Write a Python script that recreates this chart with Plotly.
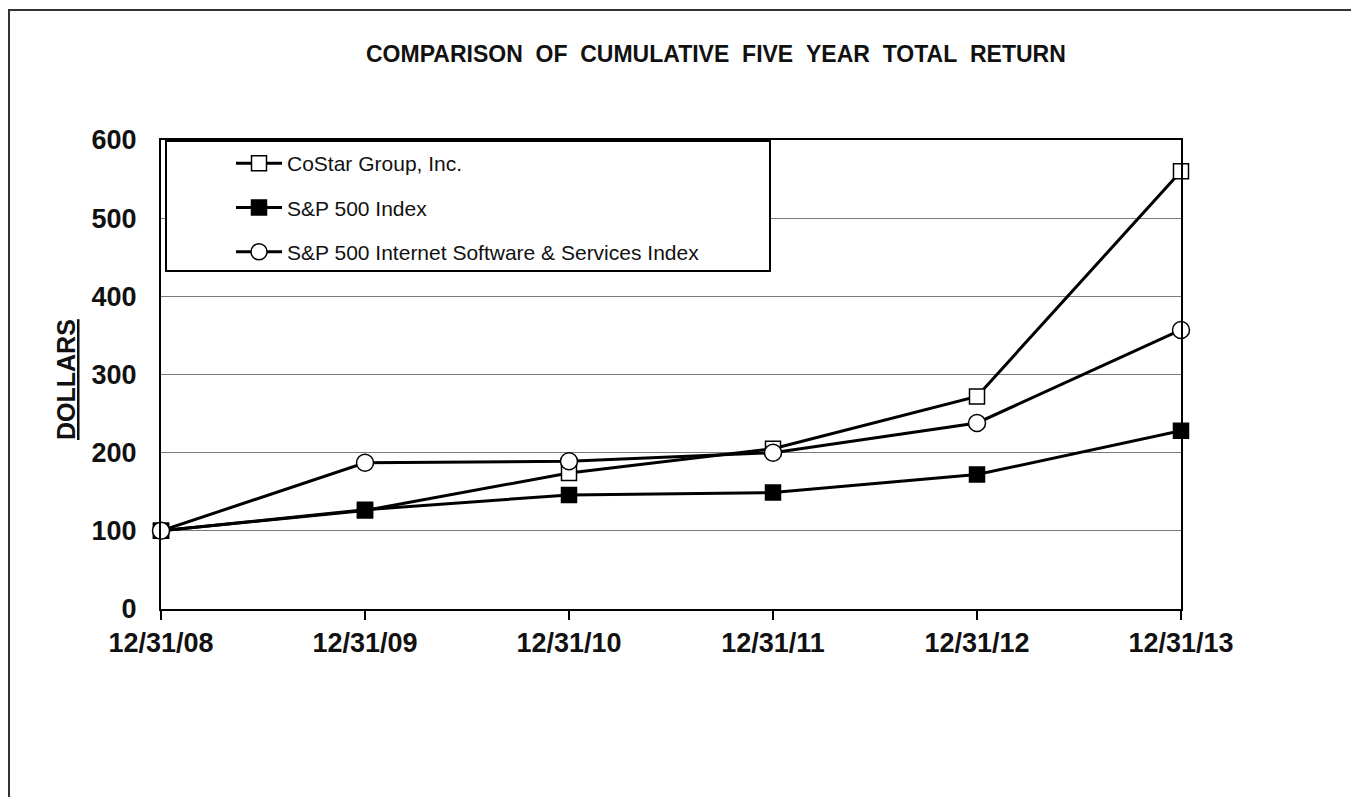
import plotly.graph_objects as go

# ---- data ----
dates = ["12/31/08", "12/31/09", "12/31/10", "12/31/11", "12/31/12", "12/31/13"]
costar = [100, 126, 174, 205, 272, 560]
sp500 = [100, 127, 146, 149, 172, 228]
internet = [100, 187, 189, 200, 238, 357]
series_names = ["CoStar Group, Inc.", "S&P 500 Index",
                "S&P 500 Internet Software & Services Index"]
y_ticks = [0, 100, 200, 300, 400, 500, 600]
title_text = "COMPARISON\u00a0\u00a0OF\u00a0\u00a0CUMULATIVE\u00a0\u00a0FIVE\u00a0\u00a0YEAR\u00a0\u00a0TOTAL\u00a0\u00a0RETURN"
y_label = "DOLLARS"

# ---- layout geometry (page pixels; the page body has an 8px margin) ----
OFF = 8
PAGE_W, PAGE_H = 1359, 797
W, H = PAGE_W - OFF, PAGE_H - OFF
L, R, T, B = 161, 1181, 140, 609   # plot area in page pixels


def px(x):
    return (x - L) / (R - L)


def py(y):
    return (B - y) / (B - T)


FONT = "Liberation Sans, Arial, sans-serif"

fig = go.Figure()
styles = [
    dict(symbol="square", color="white", size=15),
    dict(symbol="square", color="black", size=15),
    dict(symbol="circle", color="white", size=17),
]
for i, (name, vals) in enumerate(zip(series_names, [costar, sp500, internet])):
    st = styles[i]
    fig.add_trace(go.Scatter(
        x=dates, y=vals, name=name, mode="lines+markers",
        line=dict(color="black", width=3),
        marker=dict(symbol=st["symbol"], color=st["color"], size=st["size"],
                    line=dict(color="black", width=1.5)),
        cliponaxis=False, legendgroup=f"g{i}",
    ))

fig.update_layout(
    width=W, height=H,
    margin=dict(l=L - OFF, r=PAGE_W - R, t=T - OFF, b=PAGE_H - B),
    paper_bgcolor="white", plot_bgcolor="white",
    font=dict(family=FONT, color="#111"),
    showlegend=True,
    legend=dict(
        x=px(231), y=py(143), xanchor="left", yanchor="top",
        bgcolor="rgba(0,0,0,0)", borderwidth=0, itemwidth=46,
        font=dict(family=FONT, size=21, color="#111"),
        tracegroupgap=14, traceorder="grouped",
    ),
    xaxis=dict(
        type="category", range=[0, len(dates) - 1],
        showline=True, linecolor="black", linewidth=2, mirror=True,
        ticks="outside", ticklen=9, tickcolor="black", tickwidth=2,
        showgrid=False, zeroline=False,
        tickfont=dict(family=FONT, size=27, color="#111", weight="bold"),
    ),
    yaxis=dict(
        range=[0, 600], tickvals=y_ticks,
        showline=True, linecolor="black", linewidth=2, mirror=True,
        ticks="", ticklabelstandoff=17,
        showgrid=True, gridcolor="#7a7a7a", gridwidth=1, zeroline=False,
        tickfont=dict(family=FONT, size=27, color="#111", weight="bold"),
    ),
)

# outer frame (cropped at right / bottom)
fig.add_shape(type="rect", xref="paper", yref="paper",
              x0=px(9), x1=px(1390), y0=py(830), y1=py(10),
              line=dict(color="#333", width=2), fillcolor="rgba(0,0,0,0)",
              layer="below")
# legend box
fig.add_shape(type="rect", xref="paper", yref="paper",
              x0=px(166), x1=px(770), y0=py(271), y1=py(141),
              line=dict(color="black", width=2), fillcolor="white",
              layer="above")

fig.add_annotation(text=title_text, xref="paper", yref="paper",
                   x=px(716), y=py(54), xanchor="center", yanchor="middle",
                   showarrow=False,
                   font=dict(family=FONT, size=23, color="#111", weight="bold"))
fig.add_annotation(text=f'<span style="text-decoration:underline">{y_label}</span>',
                   xref="paper", yref="paper", x=px(66), y=py(380),
                   xanchor="center", yanchor="middle", textangle=-90,
                   showarrow=False,
                   font=dict(family=FONT, size=25, color="#111", weight="bold"))

fig.write_html("out.html")
